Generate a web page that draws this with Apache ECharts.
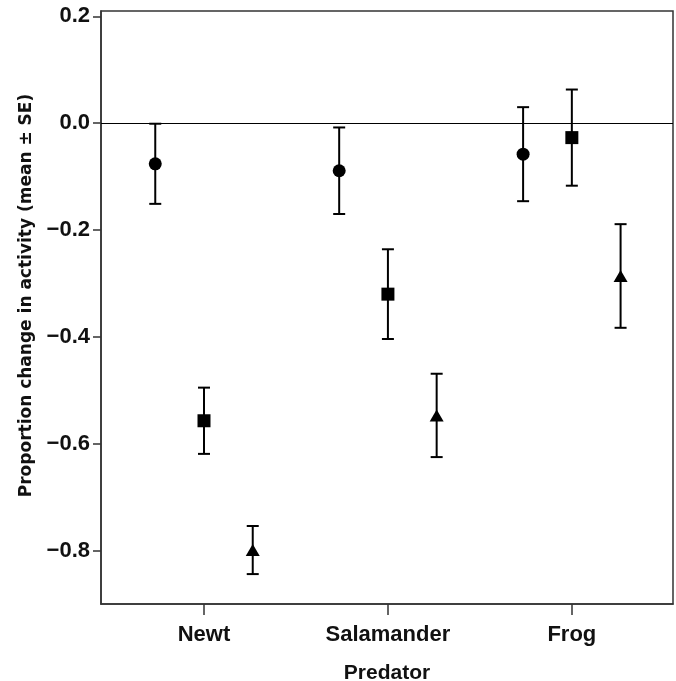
<!DOCTYPE html>
<html>
<head>
<meta charset="utf-8">
<title>Proportion change in activity by predator</title>
<script src="https://cdn.jsdelivr.net/npm/echarts@6/dist/echarts.min.js"></script>
<style>
  html, body { margin: 0; padding: 0; background: #fff; }
  #chart { width: 676px; height: 681px; }
</style>
</head>
<body>
<div id="chart"></div>
<script>
// Predator cue categories along the x axis
const predators = ['Newt', 'Salamander', 'Frog'];

// Group means (proportion change in activity) and standard errors
const circleMean = [-0.076, -0.089, -0.058];
const circleSE   = [0.075, 0.081, 0.088];
const squareMean = [-0.557, -0.320, -0.027];
const squareSE   = [0.062, 0.084, 0.090];
const triangleMean = [-0.799, -0.547, -0.286];
const triangleSE   = [0.045, 0.078, 0.097];

// Y axis tick values
const yTicks = [-0.8, -0.6, -0.4, -0.2, 0.0, 0.2];
const xTicks = [1, 2, 3];

const groups = [
  { name: 'Circle', symbol: 'circle', size: 13, mean: circleMean, se: circleSE, offset: -0.265 },
  { name: 'Square', symbol: 'rect', size: 13, mean: squareMean, se: squareSE, offset: 0 },
  { name: 'Triangle', symbol: 'triangle', size: [14, 12], mean: triangleMean, se: triangleSE, offset: 0.265 }
];

const FONT = '"Liberation Sans", Arial, sans-serif';

function fmtTick(v) {
  const s = Math.abs(v).toFixed(1);
  return v < -1e-9 ? '\u2212' + s : s;
}

// Error bar: vertical stem with horizontal caps
function renderErrorBar(params, api) {
  const x = api.value(0);
  const lo = api.coord([x, api.value(1)]);
  const hi = api.coord([x, api.value(2)]);
  const half = 6;
  const style = { stroke: '#000', lineWidth: 2 };
  return {
    type: 'group',
    children: [
      { type: 'line', shape: { x1: hi[0], y1: hi[1], x2: lo[0], y2: lo[1] }, style },
      { type: 'line', shape: { x1: hi[0] - half, y1: hi[1], x2: hi[0] + half, y2: hi[1] }, style },
      { type: 'line', shape: { x1: lo[0] - half, y1: lo[1], x2: lo[0] + half, y2: lo[1] }, style }
    ]
  };
}

const series = [];
groups.forEach(function (g, gi) {
  const barData = predators.map(function (p, i) {
    return [i + 1 + g.offset, g.mean[i] - g.se[i], g.mean[i] + g.se[i]];
  });
  const pointData = predators.map(function (p, i) {
    return [i + 1 + g.offset, g.mean[i]];
  });
  series.push({
    name: g.name + ' SE',
    type: 'custom',
    renderItem: renderErrorBar,
    encode: { x: 0, y: [1, 2] },
    data: barData,
    z: 2,
    silent: true
  });
  const s = {
    name: g.name,
    type: 'scatter',
    symbol: g.symbol,
    symbolSize: g.size,
    itemStyle: { color: '#000', opacity: 1 },
    data: pointData,
    z: 3,
    silent: true
  };
  if (gi === 0) {
    // horizontal reference line at zero
    s.markLine = {
      silent: true,
      symbol: 'none',
      label: { show: false },
      lineStyle: { color: '#000', width: 1, type: 'solid', opacity: 1 },
      data: [{ yAxis: 0 }],
      animation: false
    };
  }
  series.push(s);
});

const chart = echarts.init(document.getElementById('chart'), null, { renderer: 'canvas' });
chart.setOption({
  animation: false,
  backgroundColor: '#fff',
  grid: {
    left: 101, right: 3, top: 11, bottom: 77,
    show: true,
    borderColor: '#333',
    borderWidth: 1.5,
    containLabel: false,
    outerBoundsMode: 'none'
  },
  xAxis: {
    type: 'value',
    min: 0.44,
    max: 3.55,
    name: 'Predator',
    nameLocation: 'middle',
    nameGap: 59,
    nameTextStyle: { fontFamily: FONT, fontWeight: 'bold', fontSize: 21, color: '#111' },
    axisLine: { show: true, onZero: false, lineStyle: { color: '#333', width: 1.5 } },
    axisTick: { show: true, customValues: xTicks, length: 11, lineStyle: { color: '#333', width: 1.5 } },
    axisLabel: {
      customValues: xTicks,
      margin: 20,
      fontFamily: FONT, fontWeight: 'bold', fontSize: 22, color: '#111',
      formatter: function (v) { return predators[Math.round(v) - 1] || ''; }
    },
    splitLine: { show: false }
  },
  yAxis: {
    type: 'value',
    min: -0.9,
    max: 0.21,
    name: 'Proportion change in activity (mean \u00b1 SE)',
    nameLocation: 'middle',
    nameRotate: 90,
    nameGap: 66,
    nameTextStyle: {
      fontFamily: '"DejaVu Sans", sans-serif', fontWeight: 'bold', fontSize: 17, color: '#111',
      padding: [0, 0, 0, 24]
    },
    axisLine: { show: true, onZero: false, lineStyle: { color: '#333', width: 1.5 } },
    axisTick: { show: true, customValues: yTicks, length: 8, lineStyle: { color: '#333', width: 1.5 } },
    axisLabel: {
      customValues: yTicks,
      margin: 11,
      fontFamily: FONT, fontWeight: 'bold', fontSize: 22, color: '#111',
      formatter: fmtTick
    },
    splitLine: { show: false }
  },
  series: series
});
</script>
</body>
</html>
